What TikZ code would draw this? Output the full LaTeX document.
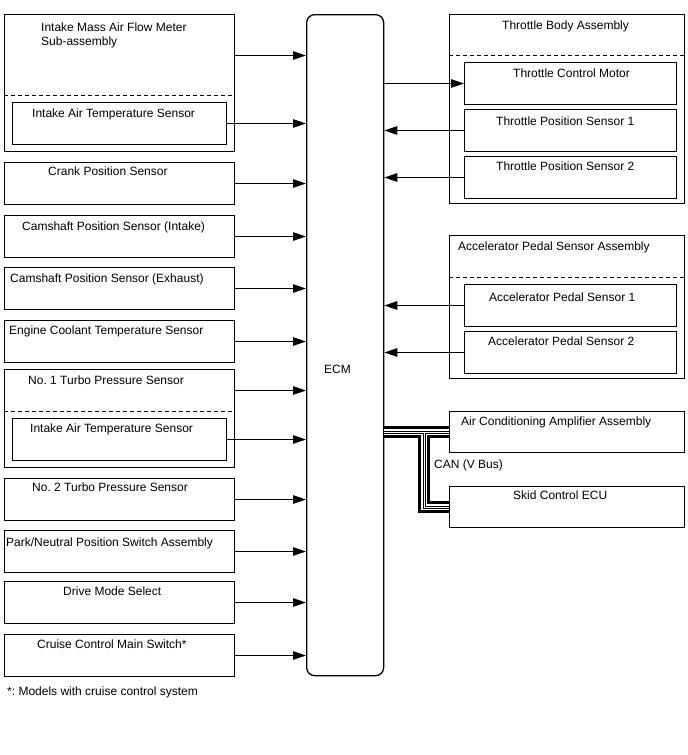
\documentclass[tikz,border=0pt]{standalone}
\usepackage{fontspec}
\setmainfont{Liberation Sans}
\usetikzlibrary{arrows.meta}
\frenchspacing

\tikzset{
  box/.style={draw, line width=1pt, anchor=north west, inner sep=0pt,
    minimum width=230pt, minimum height=42pt},
  inbox/.style={box, minimum width=214pt},
  rbox/.style={box, minimum width=235pt},
  rinbox/.style={box, minimum width=212pt},
  txt/.style={anchor=base west, inner sep=0pt, font=\fontsize{12}{14}\selectfont, align=left},
  sig/.style={line width=1.2pt, -{Triangle[length=13pt,width=8.5pt]}},
  sep/.style={line width=0.9pt, dash pattern=on 4pt off 3pt},
}

\begin{document}
\begin{tikzpicture}[x=1pt,y=-1pt]
\useasboundingbox (0,0) rectangle (688,755);

% ECM
\node[draw, line width=1.3pt, rounded corners=8pt, anchor=north west,
  minimum width=77pt, minimum height=661pt] (ecm) at (306,14) {};
\node[txt] (ecm-t) at (324,373) {ECM};

% sensors, left side
\node[box, minimum height=137pt] (maf) at (4,14) {};
\node[txt] (maf-t) at (41,45) {Intake Mass Air Flow Meter\\Sub-assembly};
\draw[sep] ([yshift=-81pt]maf.north west) -- ([yshift=-81pt]maf.north east);
\node[inbox] (iat1) at (12,102) {};
\node[txt] (iat1-t) at (32,117) {Intake Air Temperature Sensor};

\node[box] (crank) at (4,162) {};
\node[txt] (crank-t) at (48,175) {Crank Position Sensor};
\node[box] (camin) at (4,215) {};
\node[txt] (camin-t) at (22,230) {Camshaft Position Sensor (Intake)};
\node[box] (camex) at (4,267) {};
\node[txt] (camex-t) at (10,282) {Camshaft Position Sensor (Exhaust)};
\node[box] (ect) at (4,320) {};
\node[txt] (ect-t) at (9,334) {Engine Coolant Temperature Sensor};

\node[box, minimum height=98pt] (turbo1) at (4,369) {};
\node[txt] (turbo1-t) at (28,384) {No. 1 Turbo Pressure Sensor};
\draw[sep] ([yshift=-42pt]turbo1.north west) -- ([yshift=-42pt]turbo1.north east);
\node[inbox] (iat2) at (12,418) {};
\node[txt] (iat2-t) at (30,432) {Intake Air Temperature Sensor};

\node[box] (turbo2) at (4,478) {};
\node[txt] (turbo2-t) at (32,491) {No. 2 Turbo Pressure Sensor};
\node[box] (pnp) at (4,530) {};
\node[txt] (pnp-t) at (6,546) {Park/Neutral Position Switch Assembly};
\node[box] (dms) at (4,581) {};
\node[txt] (dms-t) at (63,595) {Drive Mode Select};
\node[box] (ccs) at (4,634) {};
\node[txt] (ccs-t) at (37,648) {Cruise Control Main Switch*};

\node[txt] (note) at (7,695) {*: Models with cruise control system};

% right side
\node[rbox, minimum height=189pt] (tba) at (449,14) {};
\node[txt] (tba-t) at (502,29) {Throttle Body Assembly};
\draw[sep] ([yshift=-41pt]tba.north west) -- ([yshift=-41pt]tba.north east);
\node[rinbox] (tcm) at (464,62) {};
\node[txt] (tcm-t) at (513,77) {Throttle Control Motor};
\node[rinbox] (tps1) at (464,109) {};
\node[txt] (tps1-t) at (496,125) {Throttle Position Sensor 1};
\node[rinbox] (tps2) at (464,156) {};
\node[txt] (tps2-t) at (496,170) {Throttle Position Sensor 2};

\node[rbox, minimum height=143pt] (apa) at (449,235) {};
\node[txt] (apa-t) at (458,250) {Accelerator Pedal Sensor Assembly};
\draw[sep] ([yshift=-42pt]apa.north west) -- ([yshift=-42pt]apa.north east);
\node[rinbox] (aps1) at (464,284) {};
\node[txt] (aps1-t) at (489,301) {Accelerator Pedal Sensor 1};
\node[rinbox] (aps2) at (464,331) {};
\node[txt] (aps2-t) at (488,345) {Accelerator Pedal Sensor 2};

\node[rbox, minimum height=41pt] (aca) at (449,411) {};
\node[txt] (aca-t) at (461,425) {Air Conditioning Amplifier Assembly};
\node[rbox, minimum height=41pt] (skid) at (449,486) {};
\node[txt] (skid-t) at (513,499) {Skid Control ECU};
\node[txt] (can-t) at (434,468) {CAN (V Bus)};

% signal lines
\coordinate (maf-o) at ([yshift=-41.5pt]maf.north east);
\coordinate (turbo1-o) at ([yshift=-21.5pt]turbo1.north east);
\foreach \n in {maf-o,iat1,crank,camin,camex,ect,turbo1-o,iat2,turbo2,pnp,dms,ccs}
  \draw[sig] (\n.east) -- (\n.east -| ecm.west);
\draw[sig] (ecm.east |- tcm.west) -- (tcm.west);
\foreach \n in {tps1,tps2,aps1,aps2}
  \draw[sig] (\n.west) -- (\n.west -| ecm.east);

% CAN bus
\coordinate (tap) at ([xshift=40pt]ecm.east |- aca.west);
\foreach \w/\c in {12/black,6/white,3/black,1/white}
  \draw[line width=\w pt, draw=\c, line join=miter]
    (ecm.east |- aca.west) -- (aca.west)
    (tap) -- (tap |- skid.west) -- (skid.west);
\end{tikzpicture}
\end{document}
